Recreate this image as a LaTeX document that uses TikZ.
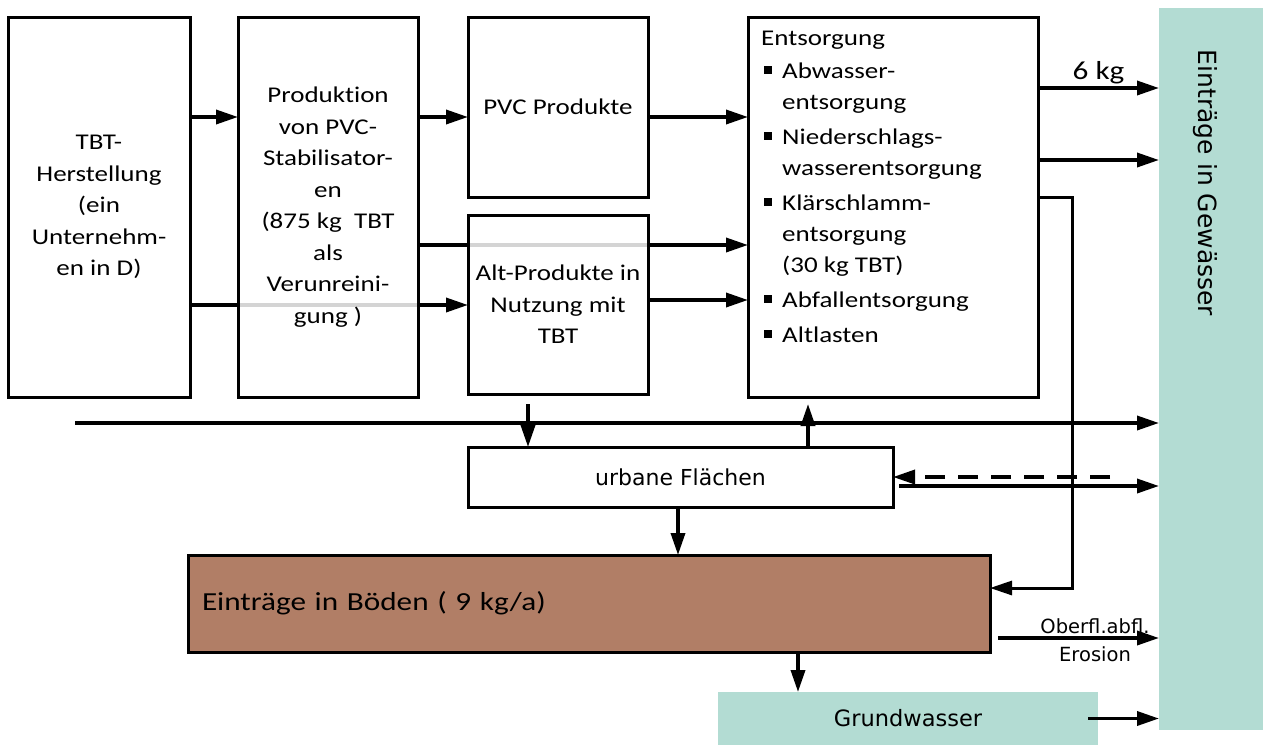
\documentclass[tikz,border=0pt]{standalone}
\usepackage{fontspec}
\setmainfont[FakeStretch=1.2,Ligatures={NoCommon,NoRare,NoDiscretionary}]{Carlito}
\newfontfamily\dvfont{DejaVu Sans}
\usetikzlibrary{arrows.meta,backgrounds}
\definecolor{teal1}{RGB}{179,220,211}
\definecolor{soil}{RGB}{177,126,102}
\definecolor{greyline}{RGB}{212,212,212}
\newcommand{\entbul}{\makebox[21pt][l]{\hspace{3pt}\raisebox{5pt}{\rule{8pt}{8pt}}}}
\newcommand{\entind}{\hspace{21pt}}
\begin{document}
\begin{tikzpicture}[x=1pt,y=-1pt,
  box/.style={draw=black,line width=3pt,inner sep=0pt,outer sep=0pt,align=center,font=\fontsize{22.5}{31.5}\selectfont},
  tealbox/.style={fill=teal1,inner sep=0pt,outer sep=0pt},
  arr/.style={line width=3.5pt,-{Triangle[length=22pt,width=14pt]}},
  gl/.style={line width=3.5pt,draw=greyline},
  dvlbl/.style={font=\dvfont\fontsize{19.5}{22}\selectfont,inner sep=0pt}]
\useasboundingbox (0,0) rectangle (1263,745);

% boxes
\node[box,minimum width=182pt,minimum height=380pt] (tbt) at (99,207)
  {TBT-\\Herstellung\\(ein\\Unternehm-\\en in D)};
\node[box,minimum width=180pt,minimum height=380pt] (prod) at (328,207)
  {Produktion\\von PVC-\\Stabilisator-\\en\\(875 kg~~TBT\\als\\Verunreini-\\gung )};
\node[box,minimum width=180pt,minimum height=180pt] (pvc) at (558,107) {PVC Produkte};
\node[box,minimum width=180pt,minimum height=179pt] (alt) at (558,304.5)
  {Alt-Produkte in\\Nutzung mit\\TBT};
\node[box,minimum width=290pt,minimum height=380pt] (ents) at (893,207) {};
\node[anchor=north west,align=left,inner sep=0pt,font=\fontsize{22.5}{31}\selectfont] (entst) at (761,31)
  {Entsorgung\\[2pt]
   \entbul Abwasser-\\
   \entind entsorgung\\[4pt]
   \entbul Niederschlags-\\
   \entind wasserentsorgung\\[4pt]
   \entbul Klärschlamm-\\
   \entind entsorgung\\
   \entind (30 kg TBT)\\[4pt]
   \entbul Abfallentsorgung\\[4pt]
   \entbul Altlasten};
\node[box,minimum width=425pt,minimum height=60pt,font=\dvfont\fontsize{22}{26}\selectfont] (urb) at (680.5,477) {urbane Flächen};
\node[box,fill=soil,minimum width=802pt,minimum height=97pt,text width=774pt,align=left,font=\fontsize{26}{30}\selectfont] (boden) at (589,603.5)
  {Einträge in Böden ( 9 kg/a)};
\node[tealbox,minimum width=380pt,minimum height=53pt,font=\dvfont\fontsize{22.5}{26}\selectfont] (gw) at (908,718.5) {Grundwasser};
\node[tealbox,minimum width=104pt,minimum height=722pt] (gew) at (1211,369) {};
\node[rotate=-90,inner sep=0pt,font=\dvfont\fontsize{25}{28}\selectfont] (gewt) at (1205,183) {Einträge in Gewässer};

% free coordinates
\coordinate (lstart) at (75,423);
\coordinate (bend) at (1072,588);
\coordinate (dstart) at (1110,477);
\coordinate (gws) at ([xshift=-10pt]gw.east);

\begin{pgfonlayer}{background}
\draw[arr] (tbt.east |- 0,117) -- (prod.west |- 0,117);
\draw[arr] (tbt.east |- 0,305) -- (alt.west |- 0,305);
\draw[gl] (prod.west |- 0,305) -- (prod.east |- 0,305);
\draw[arr] (prod.east |- 0,117) -- (pvc.west |- 0,117);
\draw[arr] (pvc.east |- 0,117) -- (ents.west |- 0,117);
\draw[arr] (prod.east |- 0,245) -- (ents.west |- 0,245);
\draw[gl] (alt.west |- 0,245) -- (alt.east |- 0,245);
\draw[arr] (alt.east |- 0,300) -- (ents.west |- 0,300);
\end{pgfonlayer}

\draw[arr] (ents.east |- 0,88) -- node[above=2pt,inner sep=0pt,font=\fontsize{26}{28}\selectfont] (l6) {6 kg} (gew.west |- 0,88);
\draw[arr] (ents.east |- 0,160) -- (gew.west |- 0,160);
\draw[line width=3pt,-{Triangle[length=22pt,width=14pt]}] (ents.east |- 0,197) -| (bend) -- (boden.east |- bend);
\draw[line width=3.5pt,-{Triangle[length=22pt,width=14pt]}] (lstart) -- (gew.west |- lstart);
\draw[arr,shorten <=10pt] (alt.south -| 528,0) -- (urb.north -| 528,0);
\draw[arr,shorten >=7pt] (urb.north -| 808,0) -- (ents.south -| 808,0);
\draw[arr] (urb.south -| 678,0) -- (boden.north -| 678,0);
\draw[arr,dash pattern=on 20pt off 13pt] (dstart) -- (urb.east |- dstart);
\draw[arr,shorten <=6pt] (urb.east |- 0,486) -- (gew.west |- 0,486);
\draw[arr,shorten <=8pt] (boden.east |- 0,638) -- (gew.west |- 0,638);
\node[dvlbl] (ob) at (1095,626) {Oberfl.abfl.};
\node[dvlbl] (er) at (1095,654) {Erosion};
\draw[arr] (boden.south -| 798,0) -- (gw.north -| 798,0);
\draw[arr] (gws) -- (gws -| gew.west);
\end{tikzpicture}
\end{document}
